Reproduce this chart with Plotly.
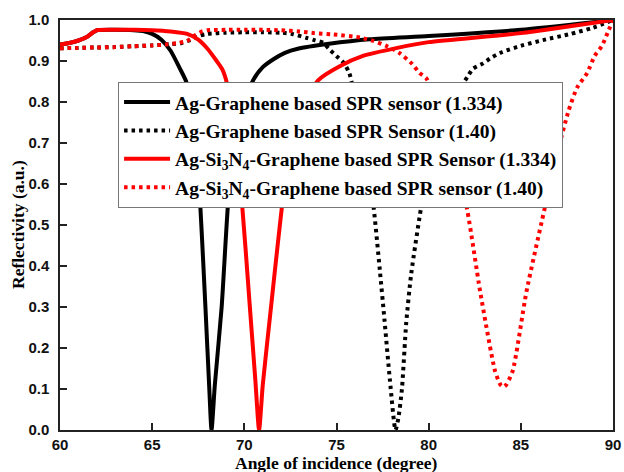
import plotly.graph_objects as go

# ---- data ----
ag_gr_1334_x = [60, 60.5, 61, 61.5, 61.8, 62, 63, 64, 64.5, 65, 65.5, 66, 66.5, 66.87, 67.2, 67.56,
                67.9, 68.1, 68.22, 68.4, 68.77, 69.17, 69.5, 70, 70.5, 71, 71.6, 72.2, 72.9, 74.6,
                76.8, 80, 85, 90]
ag_gr_1334_y = [0.940, 0.944, 0.950, 0.960, 0.970, 0.975, 0.976, 0.975, 0.973, 0.966, 0.952, 0.925,
                0.882, 0.847, 0.76, 0.584, 0.29, 0.10, 0.0, 0.11, 0.30, 0.584, 0.69, 0.80, 0.855,
                0.885, 0.905, 0.92, 0.93, 0.942, 0.953, 0.961, 0.976, 1.0]

ag_gr_140_x = [60, 61, 62, 63, 64, 65, 66, 66.6, 67.05, 67.6, 68, 69, 70, 71, 72, 72.6, 73.4, 73.8,
               74.3, 74.6, 75.0, 75.4, 75.7, 76.2, 76.95, 77.35, 77.6, 77.9, 78.2, 78.36, 78.55,
               78.78, 79.05, 79.68, 80.4, 81.2, 82.1, 82.4, 82.9, 83.4, 84.0, 85.0, 86.2, 87.7,
               88.9, 90]
ag_gr_140_y = [0.931, 0.932, 0.933, 0.934, 0.936, 0.938, 0.941, 0.944, 0.951, 0.962, 0.966, 0.969,
               0.970, 0.970, 0.969, 0.966, 0.956, 0.951, 0.944, 0.929, 0.912, 0.895, 0.870, 0.76,
               0.567, 0.39, 0.27, 0.12, 0.0, 0.03, 0.10, 0.26, 0.38, 0.567, 0.72, 0.80, 0.861,
               0.881, 0.893, 0.908, 0.922, 0.937, 0.951, 0.966, 0.981, 1.0]

ag_si_gr_1334_x = [60, 60.5, 61, 61.5, 61.8, 62, 63, 64, 65, 66, 66.9, 67.5, 68, 68.5, 68.8, 69.05,
                   69.4, 69.82, 70.3, 70.6, 70.8, 71.0, 71.4, 72.15, 72.6, 73.2, 74.0, 75.2, 76.4,
                   78.3, 80, 85, 90]
ag_si_gr_1334_y = [0.940, 0.944, 0.950, 0.960, 0.970, 0.975, 0.976, 0.976, 0.975, 0.972, 0.966,
                   0.952, 0.930, 0.90, 0.88, 0.847, 0.76, 0.584, 0.30, 0.12, 0.0, 0.11, 0.28,
                   0.584, 0.70, 0.79, 0.853, 0.888, 0.912, 0.932, 0.946, 0.968, 1.0]

ag_si_gr_140_x = [60, 61, 62, 63, 64, 65, 65.7, 66.4, 66.9, 67.2, 67.7, 68, 69, 70, 71, 72, 73,
                  73.8, 74.8, 76.3, 77.0, 77.7, 78.4, 79.1, 79.5, 79.9, 80.5, 81.2, 81.98, 82.8,
                  83.6, 83.9, 84.05, 84.2, 84.56, 85.3, 86.4, 87.0, 87.6, 88.05, 88.6, 89.0,
                  89.4, 89.7, 90]
ag_si_gr_140_y = [0.931, 0.932, 0.933, 0.934, 0.936, 0.938, 0.940, 0.944, 0.949, 0.959, 0.972,
                  0.975, 0.976, 0.976, 0.976, 0.975, 0.972, 0.968, 0.965, 0.957, 0.949, 0.937,
                  0.920, 0.893, 0.871, 0.856, 0.77, 0.67, 0.562, 0.336, 0.144, 0.11, 0.105, 0.11,
                  0.144, 0.336, 0.562, 0.68, 0.78, 0.835, 0.871, 0.912, 0.937, 0.968, 1.0]

names = [
    "Ag-Graphene based SPR sensor (1.334)",
    "Ag-Graphene based SPR Sensor (1.40)",
    "Ag-Si<sub>3</sub>N<sub>4</sub>-Graphene based SPR Sensor (1.334)",
    "Ag-Si<sub>3</sub>N<sub>4</sub>-Graphene based SPR sensor (1.40)",
]

x_ticks = [60, 65, 70, 75, 80, 85, 90]
y_ticks = [0.0, 0.1, 0.2, 0.3, 0.4, 0.5, 0.6, 0.7, 0.8, 0.9, 1.0]

DOT = "3.5px,4px"
series = [
    (ag_gr_1334_x, ag_gr_1334_y, "#000000", "solid"),
    (ag_gr_140_x, ag_gr_140_y, "#000000", DOT),
    (ag_si_gr_1334_x, ag_si_gr_1334_y, "#ff0000", "solid"),
    (ag_si_gr_140_x, ag_si_gr_140_y, "#ff0000", DOT),
]

fig = go.Figure()
for i, ((xs, ys, col, dash), nm) in enumerate(zip(series, names)):
    fig.add_trace(go.Scatter(
        x=xs, y=ys, mode="lines", name=nm,
        line=dict(color=col, width=4, dash=dash, shape="spline", smoothing=0.6),
    ))

axis_common = dict(
    showline=True, linecolor="#222222", linewidth=1.5, mirror=True,
    ticks="inside", tickcolor="#222222", tickwidth=1.5, ticklen=7,
    showgrid=False, zeroline=False, automargin=False,
    tickfont=dict(family="Liberation Sans", size=15, color="#111111", weight="bold"),
)

title_font = dict(family="Liberation Serif", size=17.5, color="#000000", weight="bold")

fig.update_layout(
    width=624, height=472,
    margin=dict(l=60, r=11, t=20, b=42),
    paper_bgcolor="white", plot_bgcolor="white",
    showlegend=True,
    legend=dict(
        x=0.105, y=0.849, xanchor="left", yanchor="top",
        bgcolor="white", bordercolor="#777777", borderwidth=1,
        font=dict(family="Liberation Serif", size=19.5, color="#000000", weight="bold"),
        itemwidth=46,
    ),
    xaxis=dict(
        range=[60, 90], tickvals=x_ticks, ticktext=[str(v) for v in x_ticks],
        ticklabelstandoff=0,
        **axis_common,
    ),
    yaxis=dict(
        range=[0, 1.0], tickvals=y_ticks, ticktext=[f"{v:.1f}" for v in y_ticks],
        ticklabelstandoff=6,
        **axis_common,
    ),
    annotations=[
        dict(text="Reflectivity (a.u.)", textangle=-90, showarrow=False,
             xref="paper", yref="paper", x=0, y=0.5, xanchor="center", yanchor="middle",
             xshift=-42, font=title_font),
        dict(text="Angle of incidence (degree)", showarrow=False,
             xref="paper", yref="paper", x=0.5, y=0, xanchor="center", yanchor="bottom",
             yshift=-45, font=title_font),
    ],
)

fig.write_html("out.html")
